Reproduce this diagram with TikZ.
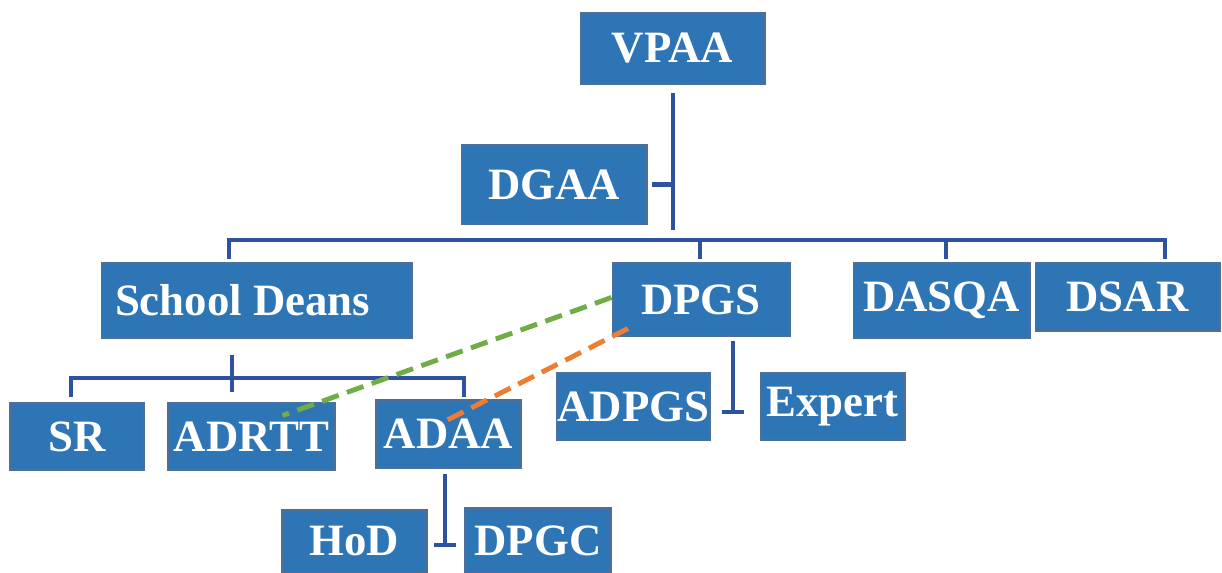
\documentclass[tikz,border=0pt]{standalone}
\usepackage{fontspec}
\setmainfont{Liberation Serif}
\usepackage{tikz}
\usetikzlibrary{positioning,calc}
\usepackage{xcolor}
\definecolor{orgblue}{RGB}{46,117,182}
\definecolor{orgedge}{RGB}{80,110,150}
\definecolor{orgline}{RGB}{47,82,160}
\definecolor{orggreen}{RGB}{112,173,71}
\definecolor{orgorange}{RGB}{237,125,49}
\tikzstyle{orgbox} = [rectangle, inner sep=0pt, text centered, draw=orgedge, line width=0.6pt, fill=orgblue, text=white, font=\fontsize{25.5}{29}\selectfont\bfseries]
\tikzstyle{link} = [orgline, line width=2.6pt]
\tikzstyle{dotlink} = [line width=2.8pt, dash pattern=on 10pt off 5pt]

\begin{document}
\begin{tikzpicture}[x=0.02cm, y=-0.02cm]
\useasboundingbox (0,0) rectangle (1222,573);
% top level
\node[orgbox, minimum width=3.7cm, minimum height=1.42cm] (vpaa) at (672.5,48.5) {VPAA};
\node[orgbox, minimum width=3.72cm, minimum height=1.58cm] (dgaa) at (554,184.5) {DGAA};
% second level
\node[orgbox, text width=5.66cm, align=flush left, inner xsep=0.28cm, minimum height=1.5cm] (deans) at (256.5,300.5) {School Deans};
\node[orgbox, minimum width=3.56cm, minimum height=1.46cm] (dpgs) at (701,299.5) {DPGS};
\node[orgbox, minimum width=3.54cm, minimum height=1.5cm] (dasqa) at (941.5,300.5) {DASQA};
\node[orgbox, minimum width=3.7cm, minimum height=1.36cm] (dsar) at (1127.5,297) {DSAR};
% third level
\node[orgbox, minimum width=2.68cm, minimum height=1.34cm] (sr) at (77,436.5) {SR};
\node[orgbox, minimum width=3.34cm, minimum height=1.34cm] (adrtt) at (251.5,436.5) {ADRTT};
\node[orgbox, minimum width=2.9cm, minimum height=1.36cm] (adaa) at (448.5,434) {ADAA};
\node[orgbox, minimum width=3.06cm, minimum height=1.34cm] (adpgs) at (633.5,406.5) {ADPGS};
\node[orgbox, minimum width=2.9cm, minimum height=1.34cm] (expert) at (832.5,406.5) {Expert};
% fourth level
\node[orgbox, minimum width=2.9cm, minimum height=1.26cm] (hod) at (354.5,541.5) {HoD};
\node[orgbox, minimum width=2.92cm, minimum height=1.3cm] (dpgc) at (538,540.5) {DPGC};

% junction points
\coordinate (topstem) at (673,230);
\coordinate (dgaajoin) at (673,184.5);
\coordinate (barleft) at (229,240);
\coordinate (barright) at (1165,240);
\coordinate (deansbar) at (232,378);
\coordinate (subleft) at (71,378);
\coordinate (subright) at (464,378);
\coordinate (dpgsfoot) at (733,412);
\coordinate (adaafoot) at (445,545);

% blue connectors
\draw[link] ($(vpaa.south -| topstem)+(0,8)$) -- (topstem);
\draw[link] ($(dgaa.east)+(4,0)$) -- (dgaajoin);
\draw[link] ($(barleft)+(0,19)$) -- (barleft) -- (barright) -- ++(0,19);
\draw[link] (700,240) -- ++(0,19);
\draw[link] (946,240) -- ++(0,19);
\draw[link] ($(deans.south -| deansbar)+(0,16)$) -- ($(deansbar)+(0,14)$);
\draw[link] ($(subleft)+(0,19)$) -- (subleft) -- (subright) -- ++(0,19);
\draw[link] ($(dpgs.south -| dpgsfoot)+(0,4)$) -- (dpgsfoot);
\draw[link] ($(dpgsfoot)+(-11,0)$) -- ++(22,0);
\draw[link] ($(adaa.south -| adaafoot)+(0,5)$) -- (adaafoot);
\draw[link] ($(adaafoot)+(-11,0)$) -- ++(22,0);

% dashed links
\draw[dotlink, orggreen] ($(dpgs.west)+(0,-2)$) -- ($(adrtt.north)+(31,13)$);
\draw[dotlink, orgorange] ($(dpgs.south)+(-73,-8)$) -- ($(adaa.north)+(-4,22)$);
\end{tikzpicture}
\end{document}
